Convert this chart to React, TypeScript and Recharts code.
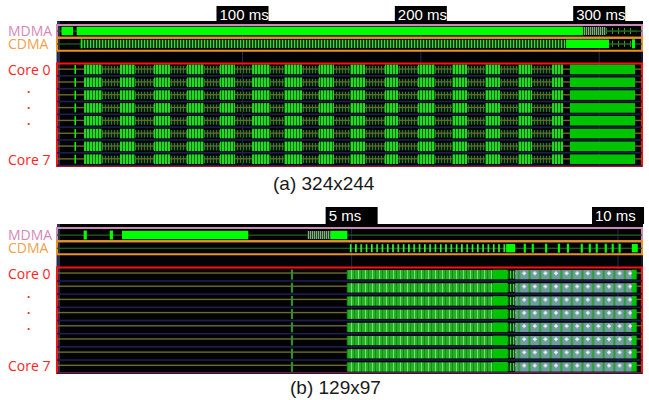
import React from "react";
import { BarChart, Bar, XAxis, YAxis, CartesianGrid, ReferenceArea } from "recharts";

type Seg = [number, number];

const rows = ["MDMA", "CDMA", "gap", "Core 0", "Core 1", "Core 2", "Core 3", "Core 4", "Core 5", "Core 6", "Core 7"];
const coreRows = rows.slice(3);

// (a) 324x244 — time in ms
const topDomain: Seg = [-4, 324];
const topTicks = [100, 200, 300];
const topMdmaBright: Seg[] = [[-1.5, 5.0], [7.0, 290.9]];
const topMdmaStriped: Seg[] = [[290.9, 303.9]];
const topMdmaDim: Seg[] = [[303.9, 320.7]];
const topCdmaTick: Seg[] = [[9.3, 9.9], [318.4, 320.1]];
const topCdmaStriped: Seg[] = [[10.0, 280.9]];
const topCdmaBright: Seg[] = [[281.4, 305.5]];
const topCdmaDim: Seg[] = [[305.5, 318.4]];
const topCoreTick: Seg[] = [[5.8, 6.5]];
const topCoreBusy: Seg[] = [[11.2, 279.7]];
const topCoreBursts: Seg[] = [
  [11.2, 21.3], [31.3, 39.8], [50.4, 59.4], [68.9, 78.4], [87.4, 95.8],
  [105.4, 115.4], [123.3, 133.4], [142.9, 151.3], [160.3, 168.7], [179.9, 187.2],
  [198.4, 207.9], [217.5, 225.9], [236.0, 244.4], [254.5, 262.4], [273.6, 279.7],
];
const topCoreSolid: Seg[] = [[283.6, 320.1]];

// (b) 129x97 — time in ms
const botDomain: Seg = [-0.53, 10.45];
const botTicks = [5, 10];
const botMdmaTick: Seg[] = [[-0.03, 0.03], [0.46, 0.52]];
const botMdmaBright: Seg[] = [[0.69, 3.06], [4.6, 4.92]];
const botMdmaStriped: Seg[] = [[4.17, 4.6]];
const botCdmaDense: Seg[] = [[4.91, 7.9]];
const botCdmaBright: Seg[] = [[7.9, 8.07], [10.26, 10.37]];
const botCdmaTicks: Seg[] = [
  [8.23, 8.27], [8.38, 8.42], [8.63, 8.67], [8.87, 8.91], [9.04, 9.08], [9.3, 9.34],
  [9.45, 9.49], [9.58, 9.62], [9.75, 9.79], [9.88, 9.92], [10.01, 10.05],
];
const botCoreTick: Seg[] = [[3.86, 3.9]];
const botCoreBusy: Seg[] = [[4.91, 7.65]];
const botCoreSolid: Seg[] = [[7.65, 7.93], [10.26, 10.35]];
const botCoreDim: Seg[] = [[7.93, 8.07]];
const botCoreGrey: Seg[] = [[8.07, 10.26]];

type Layer = { id: string; rows: string[]; segs: Seg[]; style: string };

const topLayers: Layer[] = [
  { id: "ml", rows: ["MDMA", "CDMA"], segs: [topDomain], style: "dimLine" },
  { id: "sep", rows: coreRows, segs: [topDomain], style: "sep" },
  { id: "idle", rows: coreRows, segs: [topDomain], style: "idle" },
  { id: "mb", rows: ["MDMA"], segs: topMdmaBright, style: "bright" },
  { id: "ms", rows: ["MDMA"], segs: topMdmaStriped, style: "mstripe" },
  { id: "md", rows: ["MDMA"], segs: topMdmaDim, style: "sparse" },
  { id: "cs", rows: ["CDMA"], segs: topCdmaStriped, style: "cstripe" },
  { id: "cb", rows: ["CDMA"], segs: topCdmaBright, style: "bright" },
  { id: "cd", rows: ["CDMA"], segs: topCdmaDim, style: "sparse" },
  { id: "ct", rows: ["CDMA"], segs: topCdmaTick, style: "tick" },
  { id: "kt", rows: coreRows, segs: topCoreTick, style: "tick" },
  { id: "kb", rows: coreRows, segs: topCoreBusy, style: "busy" },
  { id: "kx", rows: coreRows, segs: topCoreBursts, style: "burst" },
  { id: "ks", rows: coreRows, segs: topCoreSolid, style: "solid" },
];

const botLayers: Layer[] = [
  { id: "ml", rows: ["MDMA", "CDMA"], segs: [botDomain], style: "dimLine" },
  { id: "sep", rows: coreRows, segs: [botDomain], style: "sep" },
  { id: "idle", rows: coreRows, segs: [botDomain], style: "idleHigh" },
  { id: "mt", rows: ["MDMA"], segs: botMdmaTick, style: "tick" },
  { id: "mb", rows: ["MDMA"], segs: botMdmaBright, style: "bright" },
  { id: "ms", rows: ["MDMA"], segs: botMdmaStriped, style: "mstripe" },
  { id: "cd", rows: ["CDMA"], segs: botCdmaDense, style: "dense" },
  { id: "cb", rows: ["CDMA"], segs: botCdmaBright, style: "bright" },
  { id: "ct", rows: ["CDMA"], segs: botCdmaTicks, style: "tick" },
  { id: "kt", rows: coreRows, segs: botCoreTick, style: "dimTick" },
  { id: "kb", rows: coreRows, segs: botCoreBusy, style: "gbusy" },
  { id: "ks", rows: coreRows, segs: botCoreSolid, style: "solid" },
  { id: "kd", rows: coreRows, segs: botCoreDim, style: "cstripe" },
  { id: "kg", rows: coreRows, segs: botCoreGrey, style: "grey" },
];

const buildTable = (layers: Layer[]) =>
  rows.map((row) => {
    const rec: Record<string, any> = { row };
    layers.forEach((l) => {
      if (l.rows.includes(row)) l.segs.forEach((s, k) => (rec[`${l.id}_${k}`] = s));
    });
    return rec;
  });

const ok = (p: any) => Number.isFinite(p.x) && Number.isFinite(p.width) && Number.isFinite(p.y) && p.width > 0;

const fillBand = (fill: string, top: number, bottom: number, minW = 0) => (p: any) => {
  if (!ok(p)) return <g />;
  return <rect x={p.x} y={p.y + top} width={Math.max(p.width, minW)} height={p.height - top - bottom} fill={fill} />;
};

const hLine = (fill: string, offset: number, thick: number) => (p: any) => {
  if (!ok(p)) return <g />;
  return <rect x={p.x} y={p.y + offset} width={p.width} height={thick} fill={fill} />;
};

const withLine = (fill: string, top: number, bottom: number, lineColor: string, lineAt: number) => (p: any) => {
  if (!ok(p)) return <g />;
  return (
    <g>
      <rect x={p.x} y={p.y + top} width={p.width} height={p.height - top - bottom} fill={fill} />
      <rect x={p.x} y={p.y + lineAt} width={p.width} height={1.2} fill={lineColor} />
    </g>
  );
};

const shapes: Record<string, (p: any) => React.ReactElement> = {
  dimLine: hLine("#1d5e1d", 5.5, 1.3),
  sep: hLine("#1f1f4c", 11.6, 1.6),
  idle: hLine("#6c6c2c", 5, 1.4),
  idleHigh: hLine("#6c6c2c", 3.8, 1.4),
  bright: fillBand("#00ff00", 1.8, 1.8),
  mstripe: fillBand("url(#p-mstripe)", 2, 2),
  sparse: withLine("url(#p-sparse)", 3, 3, "#1d5e1d", 5.5),
  cstripe: fillBand("url(#p-cstripe)", 2, 1.8),
  dense: fillBand("url(#p-dense)", 2, 2),
  tick: fillBand("#00ff00", 1.5, 1.5, 1.5),
  dimTick: fillBand("#2f8f2f", 1, 1, 1.2),
  busy: withLine("url(#p-busy)", 2.5, 2, "#6c6c2c", 5),
  burst: fillBand("url(#p-burst)", 1.2, 1.2),
  solid: fillBand("#00c400", 1.2, 1.2),
  gbusy: fillBand("url(#p-gbusy)", 1.5, 1.2),
  grey: fillBand("url(#p-grey)", 1.5, 1.2),
};

const Patterns = () => (
  <svg width={0} height={0} style={{ position: "absolute" }}>
    <defs>
      <pattern id="p-burst" patternUnits="userSpaceOnUse" width={3} height={20}>
        <rect x={0} y={0} width={2} height={20} fill="#22dc22" />
        <rect x={2} y={0} width={1} height={20} fill="#0c640c" />
      </pattern>
      <pattern id="p-busy" patternUnits="userSpaceOnUse" width={3} height={20}>
        <rect x={0} y={0} width={3} height={20} fill="#0c1e0c" />
        <rect x={0} y={0} width={1} height={20} fill="#2c7a2c" />
      </pattern>
      <pattern id="p-cstripe" patternUnits="userSpaceOnUse" width={3} height={20}>
        <rect x={0} y={0} width={3} height={20} fill="#0d3d0d" />
        <rect x={0} y={0} width={1.2} height={20} fill="#3ad83a" />
      </pattern>
      <pattern id="p-mstripe" patternUnits="userSpaceOnUse" width={2} height={20}>
        <rect x={0} y={0} width={2} height={20} fill="#263f26" />
        <rect x={0} y={0} width={1} height={20} fill="#7fb07f" />
      </pattern>
      <pattern id="p-sparse" patternUnits="userSpaceOnUse" width={6} height={20}>
        <rect x={0} y={0} width={1} height={20} fill="#3aa03a" />
      </pattern>
      <pattern id="p-dense" patternUnits="userSpaceOnUse" width={5.3} height={20}>
        <rect x={0} y={0} width={1.6} height={20} fill="#33ff33" />
      </pattern>
      <pattern id="p-gbusy" patternUnits="userSpaceOnUse" width={7} height={20}>
        <rect x={0} y={0} width={7} height={20} fill="#25b025" />
        <rect x={1} y={0} width={1} height={20} fill="#78dc78" />
        <rect x={4} y={0} width={1} height={20} fill="#168a16" />
      </pattern>
      <pattern id="p-grey" patternUnits="userSpaceOnUse" x={0} y={28} width={10.6} height={13.18}>
        <rect x={0} y={0} width={10.6} height={13.18} fill="#2a9a2a" />
        <rect x={0.5} y={0} width={8.6} height={13.18} fill="#6e9d9d" />
        <rect x={2.8} y={5.2} width={4} height={1.2} fill="#ffffff" />
        <rect x={4.2} y={3.8} width={1.2} height={4} fill="#ffffff" />
      </pattern>
    </defs>
  </svg>
);

const makeTimeTick = (boxTop: number, base: number) => (p: any) => {
  const { x, y, payload } = p;
  return (
    <g>
      <rect x={x - 26} y={y + boxTop} width={52} height={17} fill="#000" />
      <text x={x - 23} y={y + base} fill="#fff" fontSize={15} fontFamily="'Liberation Sans', Arial, sans-serif">
        {`${payload.value} ms`}
      </text>
    </g>
  );
};

const RowLabel = (p: any) => {
  const { y, payload } = p;
  const v = payload.value;
  const font = { fontFamily: "'Open Sans', sans-serif", fontSize: 14 };
  if (v === "MDMA") return <text x={8} y={y + 5} fill="#d48ab6" {...font}>{v}</text>;
  if (v === "CDMA") return <text x={8} y={y + 5} fill="#f0a24a" {...font}>{v}</text>;
  if (v === "Core 0" || v === "Core 7") return <text x={8} y={y + 5} fill="#ff2424" {...font}>{v}</text>;
  if (v === "Core 3")
    return (
      <text x={27} y={y - 15.5} fill="#ff2424" fontWeight="bold" fontFamily="'Open Sans', sans-serif" fontSize={12}>
        <tspan x={27}>.</tspan>
        <tspan x={27} dy={16}>.</tspan>
        <tspan x={27} dy={16}>.</tspan>
      </text>
    );
  return <g />;
};

function Panel(props: { layers: Layer[]; domain: Seg; ticks: number[]; height: number; bottom: number; axisH: number; boxTop: number; base: number }) {
  const { layers, domain, ticks, height, bottom, axisH, boxTop, base } = props;
  const data = buildTable(layers);
  return (
    <BarChart
      width={649}
      height={height}
      layout="vertical"
      data={data}
      margin={{ top: 0, right: 7, bottom, left: 0 }}
      barCategoryGap={0}
      barSize={12}
      barGap={-12}
    >
      <CartesianGrid horizontal={false} stroke="#26264f" />
      <XAxis
        type="number"
        orientation="top"
        domain={domain}
        ticks={ticks}
        interval={0}
        allowDataOverflow
        height={axisH}
        axisLine={false}
        tickLine={false}
        tick={makeTimeTick(boxTop, base)}
      />
      <YAxis type="category" dataKey="row" width={57} interval={0} axisLine={false} tickLine={false} tick={RowLabel} />
      {layers.flatMap((l) =>
        l.segs.map((_, k) => (
          <Bar key={`${l.id}_${k}`} dataKey={`${l.id}_${k}`} shape={shapes[l.style]} isAnimationActive={false} />
        ))
      )}
      <ReferenceArea y1="MDMA" y2="MDMA" fill="none" stroke="#c98ab4" strokeWidth={2} />
      <ReferenceArea y1="CDMA" y2="CDMA" fill="none" stroke="#ea921f" strokeWidth={2} />
      <ReferenceArea y1="Core 0" y2="Core 7" fill="none" stroke="#ff1010" strokeWidth={2} />
    </BarChart>
  );
}

export default function App() {
  const panelBg: React.CSSProperties = { position: "absolute", left: 57, width: 586, background: "#030306", boxShadow: "inset 3px 0 0 #2a2f4f" };
  const caption: React.CSSProperties = {
    position: "absolute",
    fontFamily: "'Liberation Sans', Arial, sans-serif",
    fontSize: 19,
    lineHeight: "19px",
    color: "#1a1a1a",
    whiteSpace: "nowrap",
  };
  return (
    <div style={{ position: "absolute", left: 0, top: 0, width: 649, height: 400, background: "#fff", overflow: "hidden" }}>
      <Patterns />
      <div style={{ ...panelBg, top: 21, height: 146 }} />
      <div style={{ ...panelBg, top: 224, height: 150 }} />
      <div style={{ position: "absolute", left: 0, top: 0 }}>
        <Panel layers={topLayers} domain={topDomain} ticks={topTicks} height={172} bottom={6} axisH={25} boxTop={-11} base={2.5} />
      </div>
      <div style={{ ...caption, left: 273, top: 174 }}>(a) 324x244</div>
      <div style={{ position: "absolute", left: 0, top: 200 }}>
        <Panel layers={botLayers} domain={botDomain} ticks={botTicks} height={174} bottom={1} axisH={28} boxTop={-13} base={0.5} />
      </div>
      <div style={{ ...caption, left: 290, top: 378 }}>(b) 129x97</div>
    </div>
  );
}
